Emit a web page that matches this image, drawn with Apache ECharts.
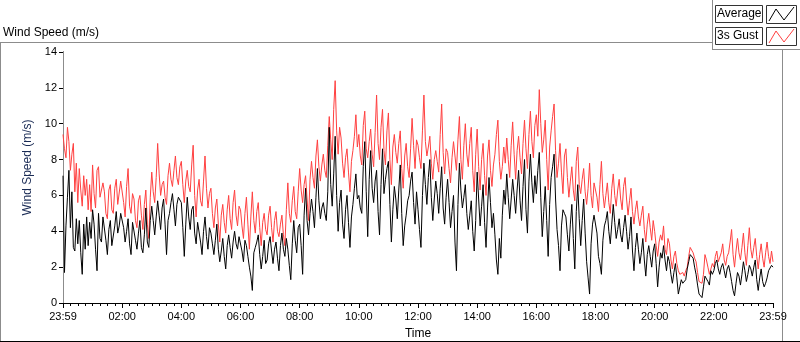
<!doctype html>
<html>
<head>
	<meta charset="utf-8">
	<title>Wind Speed</title>
	<style>
		html, body { margin: 0; padding: 0; background: #fff; }
		#main { width: 800px; height: 342px; }
	</style>
</head>
<body>
<div id="main"></div>
<script src="https://cdn.jsdelivr.net/npm/echarts@6.0.0/dist/echarts.min.js"></script>
<script>
	// one reading every 3 minutes, from 23:59 to 23:59
	var stepMinutes = 3
	var tickLabels = ['23:59', '02:00', '04:00', '06:00', '08:00', '10:00', '12:00', '14:00', '16:00', '18:00', '20:00', '22:00', '23:59']

	// 3s Gust (m/s), one row per hour
	var gustValues = [
		9.4, 8.6, 8.1, 9.8, 9.0, 7.4, 8.3, 8.9, 6.2, 7.8, 5.6, 7.5, 6.3, 5.4, 7.1, 6.0, 6.9, 5.2, 6.6, 5.1,
		7.7, 6.1, 5.3, 7.4, 7.6, 5.9, 5.8, 6.7, 6.2, 5.0, 4.7, 6.3, 6.6, 5.2, 5.0, 6.4, 6.9, 5.5, 5.4, 6.8,
		6.8, 5.6, 4.8, 6.5, 7.5, 5.4, 5.0, 6.1, 5.8, 4.6, 4.2, 5.7, 6.0, 4.9, 4.1, 5.5, 6.3, 4.4, 3.6, 5.9,
		7.3, 6.2, 5.6, 7.0, 8.9, 7.2, 6.0, 6.6, 6.8, 5.9, 5.5, 7.1, 7.8, 6.9, 6.5, 7.4, 8.2, 7.0, 6.6, 7.6,
		7.9, 6.6, 5.6, 6.8, 7.4, 6.5, 6.2, 7.7, 8.8, 6.0, 4.8, 6.3, 6.9, 5.7, 5.4, 6.8, 8.2, 6.4, 5.3, 6.1,
		6.4, 5.0, 4.2, 5.3, 5.8, 4.4, 3.4, 4.9, 5.5, 4.5, 3.9, 5.2, 6.0, 4.7, 4.1, 5.6, 6.3, 4.9, 4.3, 5.4,
		5.2, 4.3, 3.6, 5.0, 5.9, 4.4, 3.0, 4.8, 6.2, 4.6, 3.9, 5.1, 5.6, 4.2, 3.2, 4.5, 5.0, 4.1, 3.8, 4.9,
		5.4, 4.2, 3.4, 4.6, 5.1, 4.0, 3.7, 4.4, 4.9, 3.8, 3.2, 5.2, 6.7, 5.0, 4.5, 5.7, 6.5, 5.1, 4.7, 6.2,
		7.5, 6.3, 5.6, 6.6, 7.1, 5.8, 4.6, 6.9, 7.9, 7.0, 6.4, 8.2, 9.1, 7.6, 6.8, 7.7, 8.3, 7.4, 7.0, 8.8,
		10.4, 9.1, 8.0, 10.8, 12.4, 9.6, 8.3, 9.8, 9.2, 7.8, 7.0, 8.1, 8.6, 7.3, 6.2, 7.9, 8.5, 9.3, 10.5, 8.7,
		9.4, 8.2, 7.7, 9.9, 10.7, 8.6, 8.1, 9.0, 9.7, 8.3, 7.6, 9.5, 11.6, 8.9, 8.0, 9.8, 10.8, 8.5, 7.7, 9.6,
		10.6, 8.0, 6.6, 8.7, 9.4, 8.4, 7.8, 8.9, 9.6, 7.5, 6.4, 8.2, 8.9, 7.6, 7.0, 8.6, 10.3, 8.8, 7.5, 9.1,
		8.8, 8.1, 7.5, 9.6, 11.6, 9.0, 8.2, 8.7, 9.3, 7.8, 6.9, 8.0, 8.5, 7.9, 7.3, 9.4, 11.1, 8.4, 7.2, 8.6,
		8.4, 7.5, 6.7, 8.1, 9.0, 8.2, 7.4, 9.1, 10.4, 8.0, 6.9, 8.8, 10.0, 8.3, 7.6, 8.9, 9.8, 7.4, 6.2, 8.3,
		9.7, 7.6, 6.3, 8.0, 8.9, 7.1, 6.0, 8.2, 9.1, 7.4, 6.5, 7.7, 8.3, 9.4, 10.2, 7.9, 6.9, 7.6, 8.7, 7.8,
		9.2, 8.0, 7.0, 8.8, 10.1, 8.3, 6.9, 8.5, 9.3, 8.1, 7.2, 8.9, 10.2, 8.6, 7.5, 9.4, 10.7, 9.0, 8.1, 9.9,
		10.5, 9.3, 11.9, 10.0, 8.4, 9.1, 10.2, 8.0, 6.3, 8.7, 9.6, 10.4, 11.1, 8.5, 7.0, 7.8, 8.9, 7.3, 6.1, 8.2,
		8.6, 7.0, 5.9, 6.8, 7.6, 6.3, 5.7, 7.9, 8.7, 6.6, 6.1, 6.9, 7.5, 6.2, 5.5, 6.4, 7.8, 6.0, 5.3, 6.7,
		6.8, 5.9, 5.1, 6.6, 7.9, 6.1, 5.3, 6.0, 6.7, 5.6, 5.0, 6.4, 7.2, 6.0, 5.4, 6.3, 6.9, 5.8, 5.2, 6.5,
		7.0, 5.8, 4.9, 5.7, 6.4, 5.1, 4.4, 5.2, 5.7, 4.8, 4.3, 4.9, 5.4, 4.1, 3.4, 4.4, 5.0, 4.2, 3.5, 4.6,
		4.0, 3.2, 2.6, 3.4, 3.8, 3.5, 4.3, 3.0, 2.7, 3.6, 3.3, 2.4, 1.9, 2.6, 2.9, 2.2, 1.8, 1.6, 1.5, 1.7,
		1.5, 1.8, 2.0, 2.6, 3.1, 3.0, 2.8, 2.5, 2.3, 1.7, 1.2, 1.1, 1.1, 1.6, 2.7, 2.4, 2.0, 1.6, 1.9, 2.2,
		2.0, 2.6, 2.9, 2.3, 2.2, 2.8, 3.3, 2.4, 2.1, 2.6, 2.8, 3.4, 4.1, 2.7, 2.0, 2.9, 3.6, 2.8, 2.4, 3.1,
		3.9, 2.8, 2.1, 3.2, 4.2, 3.0, 2.5, 3.1, 3.6, 2.6, 1.9, 2.7, 3.3, 2.5, 2.0, 2.8, 3.4, 2.6, 2.2, 2.9, 2.3
	]

	// Average (m/s)
	var avgValues = [
		7.1, 1.7, 4.3, 5.9, 7.4, 4.2, 6.2, 3.1, 2.9, 4.7, 3.3, 4.6, 2.8, 1.6, 4.4, 3.0, 4.8, 3.2, 4.5, 3.6,
		5.2, 4.4, 3.0, 1.8, 5.0, 3.6, 3.4, 4.8, 4.9, 3.5, 2.7, 4.1, 4.6, 3.2, 3.3, 4.3, 5.1, 3.9, 4.3, 5.0,
		5.0, 4.2, 3.4, 4.0, 4.7, 3.3, 2.7, 4.5, 4.4, 3.5, 3.0, 3.9, 4.6, 3.1, 2.8, 3.8, 5.3, 3.4, 3.1, 4.6,
		5.4, 4.6, 3.8, 4.8, 5.7, 4.9, 4.1, 5.3, 5.8, 4.4, 2.7, 4.6, 5.0, 5.6, 6.1, 5.2, 4.3, 5.5, 5.9, 6.0,
		5.6, 4.2, 2.6, 4.4, 5.9, 4.8, 4.1, 5.2, 5.4, 3.9, 3.3, 4.5, 4.6, 3.4, 2.7, 4.0, 4.8, 3.7, 3.0, 4.2,
		3.9, 3.3, 2.7, 3.5, 4.4, 3.0, 2.3, 2.9, 3.6, 2.6, 1.9, 3.2, 3.8, 3.1, 2.5, 3.4, 4.0, 3.3, 3.0, 3.7,
		3.6, 2.9, 2.3, 3.5, 3.2, 2.6, 2.0, 1.5, 0.7, 2.8, 3.1, 3.4, 3.8, 2.7, 1.9, 2.6, 3.5, 2.2, 2.4, 3.3,
		3.7, 2.9, 2.2, 3.0, 3.4, 2.5, 1.8, 3.2, 3.9, 3.0, 2.6, 3.6, 3.0, 2.1, 1.3, 3.3, 4.6, 3.5, 2.8, 4.2,
		4.4, 3.2, 1.6, 4.9, 6.4, 4.6, 3.8, 5.0, 5.8, 5.1, 4.2, 5.9, 7.5, 5.7, 4.7, 5.3, 5.6, 5.0, 4.6, 6.2,
		9.8, 6.6, 5.4, 7.2, 9.3, 6.0, 4.0, 5.6, 6.3, 4.4, 3.6, 5.2, 6.0, 4.5, 3.1, 4.8, 5.5, 6.4, 7.2, 5.8,
		6.0, 5.3, 5.0, 7.6, 9.0, 6.2, 3.7, 6.9, 8.5, 6.4, 5.6, 6.8, 7.4, 5.1, 3.8, 6.6, 8.6, 6.1, 6.9, 7.5,
		7.9, 5.5, 3.4, 5.2, 6.5, 5.8, 4.7, 6.3, 7.7, 5.0, 3.2, 4.3, 4.9, 5.7, 6.0, 6.8, 7.3, 5.6, 4.4, 6.2,
		5.2, 4.1, 3.1, 6.0, 7.8, 6.6, 5.5, 7.0, 8.0, 5.9, 4.6, 5.8, 6.8, 6.1, 5.0, 6.4, 7.6, 5.3, 4.4, 5.9,
		6.9, 5.6, 4.2, 5.1, 6.0, 3.4, 1.8, 5.5, 7.8, 6.3, 5.3, 5.9, 6.6, 5.0, 4.1, 4.9, 5.7, 4.0, 2.9, 4.6,
		7.3, 5.8, 4.3, 5.4, 6.6, 4.5, 3.1, 5.3, 7.0, 5.6, 4.2, 5.0, 3.8, 2.4, 1.6, 3.6, 2.5, 4.9, 6.3, 5.5,
		7.2, 5.9, 4.7, 5.8, 6.9, 6.0, 5.0, 6.3, 7.4, 5.7, 4.6, 6.5, 8.0, 5.2, 3.9, 6.8, 8.3, 6.7, 5.6, 7.1,
		6.1, 7.4, 8.4, 5.9, 3.7, 5.1, 6.5, 4.6, 2.6, 5.5, 7.0, 7.6, 8.3, 5.8, 4.1, 3.2, 1.8, 4.3, 5.2, 5.0,
		4.8, 3.8, 2.9, 4.4, 5.5, 3.6, 1.9, 5.1, 6.6, 4.7, 3.2, 4.6, 5.8, 3.9, 2.3, 1.4, 0.5, 3.3, 4.4, 4.9,
		4.9, 3.9, 2.6, 2.2, 1.6, 3.5, 4.3, 4.6, 5.1, 4.0, 3.3, 4.4, 5.5, 4.5, 3.6, 4.1, 4.7, 3.8, 3.4, 4.2,
		4.9, 4.0, 3.0, 3.7, 4.8, 2.9, 1.8, 3.1, 3.9, 3.0, 2.2, 2.8, 3.6, 2.4, 1.5, 2.7, 3.2, 2.6, 2.0, 2.9,
		3.3, 2.2, 0.9, 2.0, 2.8, 2.5, 3.2, 2.4, 1.8, 2.6, 2.3, 1.6, 1.1, 1.7, 2.2, 1.4, 0.5, 0.9, 1.3, 1.1,
		1.0, 1.3, 1.9, 2.3, 2.7, 2.6, 2.5, 2.0, 1.6, 1.0, 0.5, 0.4, 0.3, 0.9, 1.5, 1.6, 1.2, 1.0, 1.8, 1.6,
		1.8, 2.2, 2.4, 1.9, 1.6, 2.0, 2.2, 1.8, 1.4, 1.9, 2.1, 1.7, 1.2, 0.7, 0.4, 1.1, 1.7, 1.5, 1.0, 1.6,
		2.3, 1.8, 1.2, 1.6, 2.1, 1.9, 1.5, 2.0, 2.4, 1.3, 0.7, 1.4, 1.9, 1.2, 0.9, 1.1, 1.4, 1.8, 1.7, 2.1, 2.0
	]

	function toPairs(values) {
		var out = []
		for (var i = 0; i < values.length; i++) {
			out.push([i * stepMinutes, values[i]])
		}
		return out
	}

	var font = 'Liberation Sans, Arial, sans-serif'
	var grey = '#8c8c8c'

	var myChart = echarts.init(document.getElementById('main'), null, {renderer: 'canvas'})
	var option = {
		animation: false,
		backgroundColor: '#fff',
		title: {
			text: 'Wind Speed (m/s)',
			left: 3,
			top: 27,
			padding: 0,
			textStyle: {fontFamily: font, fontSize: 12, fontWeight: 'normal', color: '#000'}
		},
		grid: {left: 63, right: 27, top: 52, bottom: 39, outerBoundsMode: 'none'},
		xAxis: [{
			type: 'value',
			min: 0,
			max: 1440,
			interval: 120,
			name: 'Time',
			nameLocation: 'middle',
			nameGap: 25,
			nameTextStyle: {fontFamily: font, fontSize: 12, color: '#000'},
			axisLine: {lineStyle: {color: grey, width: 1}},
			axisTick: {show: true, length: 5, lineStyle: {color: '#000'}},
			minorTick: {show: true, splitNumber: 8, length: 3, lineStyle: {color: '#000'}},
			axisLabel: {
				margin: 8,
				fontFamily: font,
				fontSize: 11,
				color: '#000',
				showMinLabel: true,
				showMaxLabel: true,
				formatter: function (v) { return tickLabels[Math.round(v / 120)] }
			},
			splitLine: {show: false}
		}, {
			type: 'value',
			position: 'top',
			min: 0,
			max: 1440,
			axisLine: {show: true, lineStyle: {color: '#000', width: 1}},
			axisTick: {show: false},
			axisLabel: {show: false},
			splitLine: {show: false}
		}],
		yAxis: [{
			type: 'value',
			min: 0,
			max: 14,
			interval: 2,
			name: 'Wind Speed (m/s)',
			nameLocation: 'middle',
			nameGap: 21,
			nameTextStyle: {fontFamily: font, fontSize: 12, color: '#1a2b55', padding: [0, 0, 0, 20]},
			axisLine: {show: true, lineStyle: {color: '#000', width: 1}},
			axisTick: {show: true, length: 4, lineStyle: {color: '#000'}},
			axisLabel: {margin: 6, fontFamily: font, fontSize: 11, color: '#000'},
			splitLine: {show: false}
		}, {
			type: 'value',
			position: 'right',
			min: 0,
			max: 14,
			axisLine: {show: true, lineStyle: {color: grey, width: 1}},
			axisTick: {show: false},
			axisLabel: {show: false},
			splitLine: {show: false}
		}],
		series: [{
			name: '3s Gust',
			type: 'line',
			data: toPairs(gustValues),
			showSymbol: false,
			symbol: 'none',
			z: 2,
			lineStyle: {color: '#ff4040', width: 1},
			itemStyle: {color: '#ff4040'}
		}, {
			name: 'Average',
			type: 'line',
			data: toPairs(avgValues),
			showSymbol: false,
			symbol: 'none',
			z: 3,
			lineStyle: {color: '#000', width: 1},
			itemStyle: {color: '#000'}
		}],
		graphic: [
			// outer panel frame
			{type: 'line', shape: {x1: 0, y1: 42.5, x2: 712, y2: 42.5}, style: {stroke: grey, lineWidth: 1}},
			{type: 'line', shape: {x1: 0.5, y1: 42, x2: 0.5, y2: 341}, style: {stroke: grey, lineWidth: 1}},
			{type: 'line', shape: {x1: 0, y1: 341.5, x2: 800, y2: 341.5}, style: {stroke: '#000', lineWidth: 1}},
			{type: 'line', shape: {x1: 712.5, y1: 0, x2: 712.5, y2: 49}, style: {stroke: grey, lineWidth: 1}},
			{type: 'line', shape: {x1: 712, y1: 49.5, x2: 800, y2: 49.5}, style: {stroke: grey, lineWidth: 1}},
			{type: 'line', shape: {x1: 782.5, y1: 49, x2: 782.5, y2: 341}, style: {stroke: grey, lineWidth: 1}},
			// legend
			{type: 'rect', shape: {x: 715.5, y: 5.5, width: 47, height: 17}, style: {fill: '#fff', stroke: '#333', lineWidth: 1}},
			{type: 'text', x: 717, y: 8, style: {text: 'Average', fontFamily: font, fontSize: 12, fill: '#000'}},
			{type: 'rect', shape: {x: 766.5, y: 5.5, width: 30, height: 18}, style: {fill: '#fff', stroke: '#333', lineWidth: 1}},
			{type: 'polyline', shape: {points: [[769, 21], [776, 9], [784, 20], [794, 7]]}, style: {stroke: '#000', lineWidth: 1, fill: null}},
			{type: 'rect', shape: {x: 715.5, y: 27.5, width: 47, height: 17}, style: {fill: '#fff', stroke: '#333', lineWidth: 1}},
			{type: 'text', x: 717, y: 30, style: {text: '3s Gust', fontFamily: font, fontSize: 12, fill: '#000'}},
			{type: 'rect', shape: {x: 766.5, y: 27.5, width: 30, height: 18}, style: {fill: '#fff', stroke: '#333', lineWidth: 1}},
			{type: 'polyline', shape: {points: [[769, 43], [776, 31], [784, 42], [794, 29]]}, style: {stroke: '#ff4040', lineWidth: 1, fill: null}}
		]
	}
	myChart.setOption(option)
</script>
</body>
</html>
